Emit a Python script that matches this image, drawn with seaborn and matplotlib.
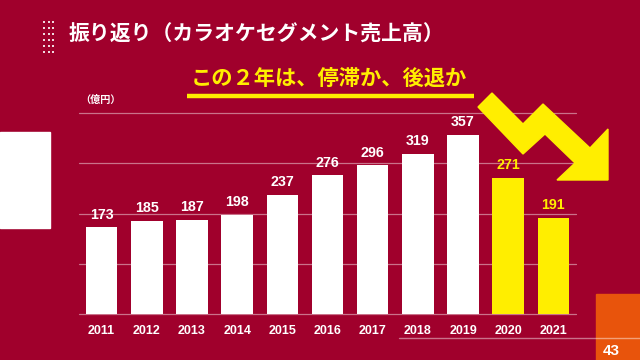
import matplotlib
matplotlib.use("Agg")
import matplotlib.pyplot as plt
import seaborn as sns
import pandas as pd
from matplotlib.patches import Rectangle, Polygon
from matplotlib.lines import Line2D

years = ["2011", "2012", "2013", "2014", "2015", "2016", "2017", "2018", "2019", "2020", "2021"]
sales = [173, 185, 187, 198, 237, 276, 296, 319, 357, 271, 191]
highlight = [False] * 9 + [True, True]
title = "振り返り（カラオケセグメント売上高）"
subtitle = "この２年は、停滞か、後退か"
unit = "（億円）"
page = "43"

BG = "#A0002C"
YEL = "#FFEE00"
ORANGE = "#E8540C"
WHITE = "#FFFFFF"

sns.set_theme(style="white")
plt.rcParams["font.family"] = ["Noto Sans CJK JP", "DejaVu Sans"]
NUMFONT = ["Liberation Sans", "Noto Sans CJK JP"]

W, H = 640, 360
fig = plt.figure(figsize=(6.4, 3.6), dpi=100)
fig.patch.set_facecolor(BG)

def fx(px):
    return px / W

def fy(py):
    return 1 - py / H

ax = fig.add_axes([fx(79), fy(314), fx(576) - fx(79), fy(113) - fy(314)])
ax.set_facecolor(BG)

df = pd.DataFrame({"year": years, "sales": sales,
                   "color": [YEL if h else WHITE for h in highlight]})
palette = {y: c for y, c in zip(df["year"], df["color"])}
sns.barplot(data=df, x="year", y="sales", hue="year", palette=palette,
            legend=False, width=0.7, ax=ax, saturation=1, zorder=3,
            linewidth=0, edgecolor="none")
ax.set_xlim(-0.5, 10.5)
ax.set_ylim(0, 400)

for v in range(0, 401, 100):
    ax.axhline(v, color=(1, 1, 1, 0.45), lw=0.9, zorder=1, clip_on=False)

for sp in ax.spines.values():
    sp.set_visible(False)
ax.set_xlabel("")
ax.set_ylabel("")
ax.set_yticks([])
ax.tick_params(axis="x", length=0, pad=8)
for lab in ax.get_xticklabels():
    lab.set_color(WHITE)
    lab.set_fontweight("bold")
    lab.set_fontsize(9)
    lab.set_family(NUMFONT)

for cont in ax.containers:
    for bar in cont:
        i = int(round(bar.get_x() + bar.get_width() / 2))
        col = YEL if highlight[i] else WHITE
        ax.annotate(f"{sales[i]}", (i, sales[i]), xytext=(0, 4),
                    textcoords="offset points", ha="center", va="bottom",
                    color=col, fontsize=10.3, fontweight="bold", family=NUMFONT)

# decorations
fig.patches.append(Rectangle((0, fy(228)), fx(50), fy(132) - fy(228),
                             transform=fig.transFigure, color=WHITE, zorder=0))
fig.patches.append(Rectangle((fx(596), 0), 1 - fx(596), fy(294),
                             transform=fig.transFigure, color=ORANGE, zorder=0))
fig.lines.append(Line2D([fx(399), 1], [fy(338), fy(338)],
                        transform=fig.transFigure, color=(1, 1, 1, 0.45), lw=1))
fig.text(fx(611), fy(351), page, color=WHITE, fontsize=11, fontweight="bold",
         ha="center", va="center", family=NUMFONT)

dot_x = [fx(c) for c in (44, 48.5, 53) for _ in range(6)]
dot_y = [fy(r) for _ in range(3) for r in (22, 28, 34, 40, 46, 52)]
fig.add_artist(Line2D(dot_x, dot_y, transform=fig.transFigure, ls="none",
                      marker="s", markersize=2, markeredgewidth=0,
                      color=(1, 1, 1, 0.85)))

fig.text(fx(69), fy(34), title, color=WHITE, fontsize=15, fontweight="bold",
         ha="left", va="center")
fig.text(fx(329), fy(78), subtitle, color=YEL, fontsize=15.3, fontweight="bold",
         ha="center", va="center")
fig.lines.append(Line2D([fx(187), fx(474)], [fy(96), fy(96)],
                        transform=fig.transFigure, color=YEL, lw=3.2,
                        solid_capstyle="butt"))
fig.text(fx(80), fy(100), unit, color=WHITE, fontsize=7.3, fontweight="bold",
         ha="left", va="center")

arrow_px = [(478, 107), (492, 93), (523, 124), (543, 104), (590, 148),
            (608, 129), (608, 180), (557, 180), (575, 163), (545, 134),
            (523, 154)]
fig.patches.append(Polygon([(fx(x), fy(y)) for x, y in arrow_px], closed=True,
                           transform=fig.transFigure, color=YEL, zorder=5))

fig.savefig("out.png", dpi=100, facecolor=BG)
